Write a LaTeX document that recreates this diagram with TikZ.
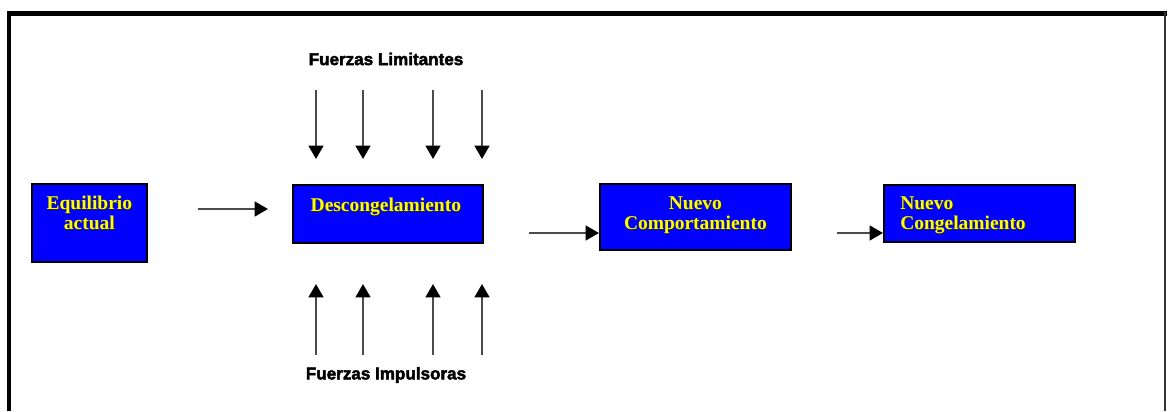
\documentclass[tikz,border=0pt]{standalone}
\usepackage{fontspec}
\setmainfont{Liberation Serif}
\newfontfamily\forcefont{Liberation Sans Bold}[FakeBold=2.5]
\usetikzlibrary{arrows.meta,positioning,calc}
\definecolor{stageblue}{RGB}{0,0,255}
\definecolor{stageyellow}{RGB}{255,255,0}
\definecolor{arrgray}{RGB}{75,75,75}
% yellow text with a dark drop shadow
\newcommand\shadowed[1]{\makebox[0pt][l]{\kern0.8pt\raisebox{-0.8pt}{\textcolor{black!85}{#1}}}#1}

\begin{document}
\begin{tikzpicture}[x=0.75pt, y=-0.75pt,
  stage/.style={draw=black, line width=1.3pt, fill=stageblue, anchor=north west, inner sep=0pt},
  stagetxt/.style={text=stageyellow, font=\fontsize{14.6pt}{15pt}\selectfont\bfseries, inner sep=0pt, anchor=north, align=center},
  force/.style={font=\forcefont\fontsize{12.8pt}{14pt}\selectfont, inner sep=0pt},
  arr/.style={-{Triangle[length=10pt, width=11pt, color=black]}, line width=1.8pt, arrgray},
]
\useasboundingbox (0,0) rectangle (1168,411);
% frame
\draw[line width=3.6pt] (7,13.5) -- (1167,13.5);
\draw[line width=3pt] (9,12) -- (9,411);
\draw[line width=1.6pt, black!80] (1165,12) -- (1165,411);

% stages
\node[stage, minimum width=86.25pt, minimum height=58.5pt] (eq) at (31,183) {};
\node[stage, minimum width=142.5pt, minimum height=43.5pt] (desc) at (292,184) {};
\node[stage, minimum width=143.25pt, minimum height=49.5pt] (comp) at (599,183) {};
\node[stage, minimum width=143.25pt, minimum height=42.75pt] (cong) at (883,184) {};
\node[stagetxt] (eq-t) at ($(eq.north)+(0,13)$) {\shadowed{Equilibrio}\\\shadowed{actual}};
\node[stagetxt] (desc-t) at ($(desc.north)+(-2,14)$) {\shadowed{Descongelamiento}};
\node[stagetxt] (comp-t) at ($(comp.north)+(0,13)$) {\shadowed{Nuevo}\\\shadowed{Comportamiento}};
\node[stagetxt, anchor=north west, align=left] (cong-t) at ($(cong.north west)+(17,12)$) {\shadowed{Nuevo}\\\shadowed{Congelamiento}};

% forces
\node[force] (limit) at (386,59) {Fuerzas Limitantes};
\node[force] (impul) at (386,375) {Fuerzas Impulsoras};

\coordinate (l1) at (316,90);  \coordinate (l1e) at (316,159);
\coordinate (l2) at (363,90);  \coordinate (l2e) at (363,159);
\coordinate (l3) at (433,90);  \coordinate (l3e) at (433,159);
\coordinate (l4) at (482,90);  \coordinate (l4e) at (482,159);
\draw[arr] (l1) -- (l1e);
\draw[arr] (l2) -- (l2e);
\draw[arr] (l3) -- (l3e);
\draw[arr] (l4) -- (l4e);

\coordinate (i1) at (316,355); \coordinate (i1e) at (316,284);
\coordinate (i2) at (363,355); \coordinate (i2e) at (363,284);
\coordinate (i3) at (433,355); \coordinate (i3e) at (433,284);
\coordinate (i4) at (482,355); \coordinate (i4e) at (482,284);
\draw[arr] (i1) -- (i1e);
\draw[arr] (i2) -- (i2e);
\draw[arr] (i3) -- (i3e);
\draw[arr] (i4) -- (i4e);

% flow
\coordinate (a1) at (198,209); \coordinate (a1e) at (268,209);
\coordinate (a2) at (529,233);
\coordinate (a3) at (837,233);
\draw[arr] (a1) -- (a1e);
\draw[arr] (a2) -- (a2 -| comp.west);
\draw[arr] (a3) -- (a3 -| cong.west);
\end{tikzpicture}
\end{document}
